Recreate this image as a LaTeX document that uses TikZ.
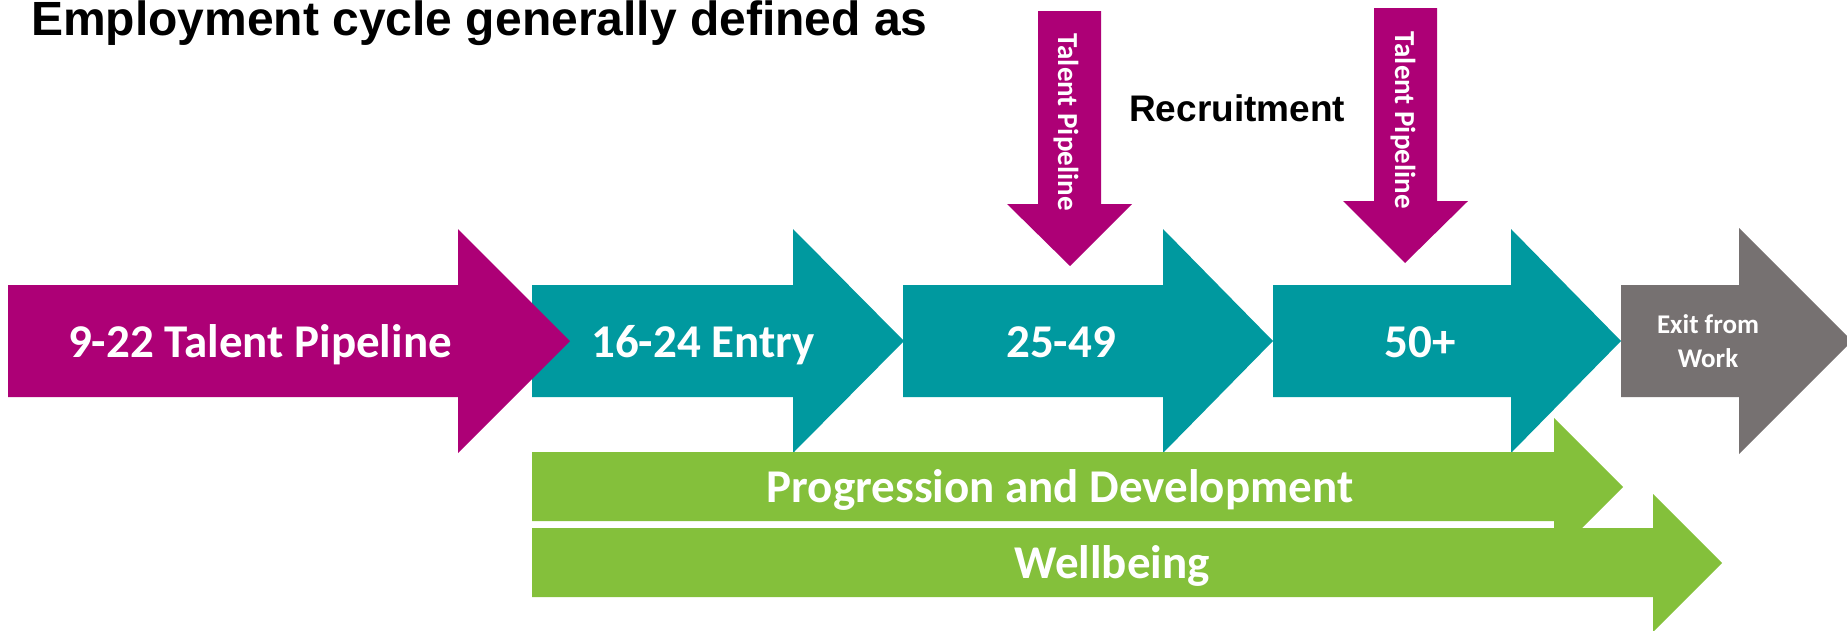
\documentclass[tikz,border=0pt]{standalone}
\usepackage{fontspec}
\setmainfont{Carlito}
\newfontfamily\arialfont{Liberation Sans}
\definecolor{cpink}{HTML}{AD0076}
\definecolor{cteal}{HTML}{00999F}
\definecolor{cgrey}{HTML}{767171}
\definecolor{cgreen}{HTML}{84C03B}
\begin{document}
\begin{tikzpicture}[x=1pt,y=-1pt,
  lbl/.style={text=white,inner sep=0pt,anchor=base,font=\bfseries\fontsize{47}{56}\selectfont},
  vlbl/.style={text=white,inner sep=0pt,anchor=base,rotate=-90,font=\bfseries\fontsize{29}{34}\selectfont},
  hdr/.style={text=black,inner sep=0pt,anchor=base west,font=\arialfont\bfseries}]
\useasboundingbox (0,0) rectangle (1847,630);
\clip (0,0) rectangle (1847,630);
% teal arrows
\fill[cteal] (532,285) -- (793,285) -- (793,229) -- (904,341) -- (793,453) -- (793,397) -- (532,397) -- cycle;
\fill[cteal] (903,285) -- (1163,285) -- (1163,229) -- (1273,341) -- (1163,453) -- (1163,397) -- (903,397) -- cycle;
\fill[cteal] (1273,285) -- (1511,285) -- (1511,229) -- (1621,341) -- (1511,453) -- (1511,397) -- (1273,397) -- cycle;
% pink arrow
\fill[cpink] (8,285) -- (458,285) -- (458,229) -- (570,341) -- (458,453) -- (458,397) -- (8,397) -- cycle;
% grey arrow
\fill[cgrey] (1621,285) -- (1739,285) -- (1739,228) -- (1852,341) -- (1739,454) -- (1739,397) -- (1621,397) -- cycle;
% green arrows
\fill[cgreen] (532,452) -- (1554,452) -- (1554,418) -- (1623,487) -- (1554,556) -- (1554,521) -- (532,521) -- cycle;
\fill[cgreen] (532,528) -- (1653,528) -- (1653,494) -- (1722,563) -- (1653,632) -- (1653,597) -- (532,597) -- cycle;
% down arrows
\fill[cpink] (1038,11) -- (1101,11) -- (1101,204) -- (1132,204) -- (1070,266) -- (1007,204) -- (1038,204) -- cycle;
\fill[cpink] (1374,8) -- (1437,8) -- (1437,201) -- (1468,201) -- (1405,263) -- (1343,201) -- (1374,201) -- cycle;
% texts
\node[hdr,font=\arialfont\bfseries\fontsize{48}{56}\selectfont] (title) at (31,35) {Employment cycle generally defined as};
\node[hdr,font=\arialfont\bfseries\fontsize{37}{44}\selectfont] (recr) at (1129,121) {Recruitment};
\node[vlbl] (tp1) at (1058,122) {Talent Pipeline};
\node[vlbl] (tp2) at (1395,120) {Talent Pipeline};
\node[lbl] (a) at (260,357) {9-22 Talent Pipeline};
\node[lbl] (b) at (703,357) {16-24 Entry};
\node[lbl] (c) at (1061,357) {25-49};
\node[lbl] (d) at (1420,357) {50+};
\node[lbl,font=\bfseries\fontsize{27}{34}\selectfont,align=center] (e) at (1708,367) {Exit from\\Work};
\node[lbl] (p) at (1060,502) {Progression and Development};
\node[lbl] (w) at (1112,578) {Wellbeing};
\end{tikzpicture}
\end{document}
